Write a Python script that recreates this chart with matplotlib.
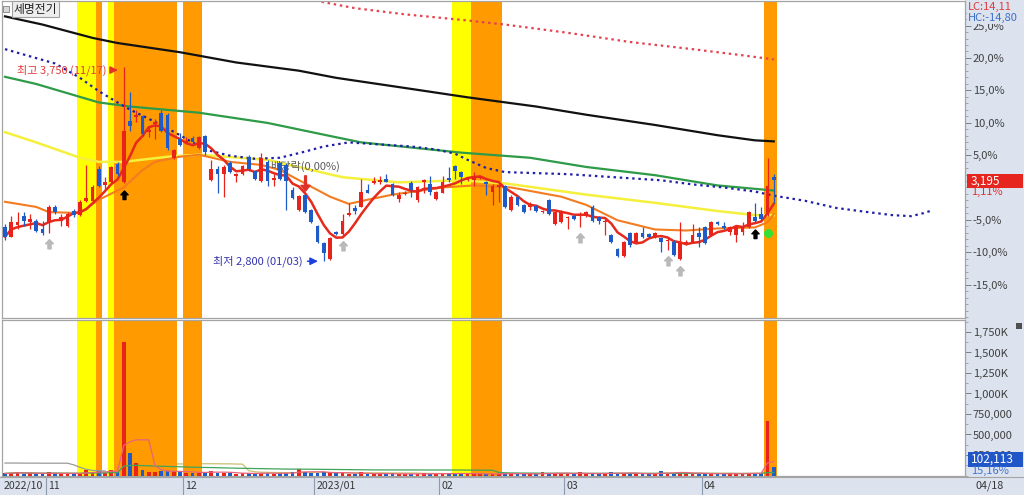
import numpy as np
import pandas as pd
import matplotlib
matplotlib.use('Agg')
import matplotlib.pyplot as plt
from matplotlib.path import Path
from matplotlib.patches import Rectangle
import matplotlib.transforms as mtrans

plt.rcParams['font.family'] = ['Noto Sans CJK KR', 'DejaVu Sans']

# ---------------- data ----------------
stock_name = '세명전기'
month_labels = ['2022/10', '11', '12', '2023/01', '02', '03', '04']
month_days = [7, 22, 21, 20, 20, 22, 12]
last_date_label = '04/18'

opens = [2965, 2920, 2975, 3020, 2990, 2995, 2955, 2990, 3065, 2995, 2970, 3045, 3025, 3095, 3095, 3250,
         3170, 3185, 3275, 3185, 3485, 3505, 3510, 3430, 3470, 3525, 3515, 3305, 3395, 3375, 3400, 3355,
         3410, 3195, 3250, 3225, 3280, 3215, 3225, 3310, 3240, 3190, 3285, 3195, 3280, 3270, 3150, 3050,
         3125, 3050, 2970, 2890, 2810, 2945, 2935, 3025, 3060, 3065, 3150, 3180, 3185, 3200, 3175, 3105,
         3130, 3180, 3100, 3185, 3175, 3105, 3135, 3205, 3265, 3235, 3195, 3195, 3205, 3185, 3140, 3160,
         3165, 3050, 3115, 3075, 3065, 3070, 3040, 3100, 2980, 2990, 3010, 3020, 3025, 3020, 3065, 3015,
         2990, 2930, 2860, 2825, 2940, 2895, 2940, 2935, 2920, 2915, 2900, 2895, 2810, 2890, 2895, 2940,
         2965, 2930, 2990, 2970, 2945, 2930, 2945, 2965, 3015, 3030, 3030, 3210]
highs = [2980, 3020, 3040, 3040, 3030, 3005, 2995, 3075, 3075, 3030, 3040, 3055, 3100, 3270, 3170, 3265,
         3210, 3265, 3285, 3750, 3625, 3540, 3515, 3455, 3495, 3540, 3525, 3350, 3425, 3405, 3410, 3410,
         3415, 3295, 3265, 3270, 3290, 3230, 3270, 3320, 3245, 3330, 3295, 3225, 3285, 3280, 3160, 3125,
         3130, 3055, 2975, 2895, 2920, 2950, 3030, 3085, 3075, 3200, 3175, 3210, 3215, 3225, 3180, 3140,
         3145, 3190, 3165, 3200, 3215, 3145, 3215, 3260, 3270, 3240, 3210, 3235, 3215, 3190, 3175, 3175,
         3170, 3125, 3120, 3080, 3090, 3075, 3050, 3105, 3045, 3050, 3020, 3025, 3040, 3045, 3075, 3020,
         3005, 2935, 2865, 2900, 2945, 2945, 2965, 2940, 2945, 2920, 2920, 2905, 2990, 2905, 2980, 2965,
         2970, 2995, 2995, 2990, 2970, 2970, 2990, 3045, 3085, 3065, 3305, 3225]
lows = [2905, 2920, 2955, 2970, 2955, 2945, 2930, 2940, 3030, 2970, 2965, 3015, 3020, 3090, 3085, 3160,
        3150, 3180, 3215, 3180, 3435, 3480, 3410, 3405, 3395, 3430, 3345, 3300, 3360, 3370, 3375, 3350,
        3320, 3190, 3135, 3115, 3230, 3185, 3220, 3240, 3195, 3185, 3165, 3165, 3195, 3050, 3105, 3045,
        3035, 2985, 2890, 2800, 2805, 2930, 2930, 3020, 3030, 3065, 3135, 3175, 3175, 3185, 3120, 3090,
        3125, 3115, 3090, 3135, 3125, 3100, 3135, 3185, 3200, 3175, 3190, 3165, 3200, 3125, 3075, 3090,
        3060, 3045, 3070, 3035, 3050, 3040, 3035, 3025, 2975, 2985, 2955, 3000, 2965, 3015, 2990, 2980,
        2930, 2890, 2820, 2820, 2870, 2890, 2915, 2915, 2915, 2845, 2855, 2825, 2805, 2880, 2890, 2870,
        2885, 2925, 2975, 2955, 2930, 2895, 2930, 2960, 2990, 2995, 3020, 3085]
closes = [2920, 2990, 2990, 2995, 3005, 2950, 2940, 3065, 3040, 3015, 3030, 3025, 3090, 3110, 3160, 3165,
          3185, 3260, 3225, 3435, 3460, 3515, 3420, 3440, 3480, 3435, 3355, 3345, 3365, 3385, 3380, 3405,
          3335, 3250, 3225, 3260, 3235, 3225, 3265, 3250, 3200, 3305, 3190, 3205, 3200, 3190, 3110, 3120,
          3040, 2990, 2895, 2840, 2915, 2935, 2995, 3035, 3045, 3140, 3135, 3190, 3195, 3185, 3125, 3125,
          3135, 3150, 3160, 3195, 3140, 3140, 3185, 3195, 3240, 3210, 3200, 3210, 3210, 3175, 3165, 3170,
          3065, 3115, 3075, 3040, 3080, 3045, 3045, 3030, 3040, 3045, 3015, 3005, 3030, 3040, 2995, 2995,
          2995, 2895, 2825, 2895, 2880, 2940, 2920, 2920, 2940, 2895, 2905, 2830, 2890, 2895, 2930, 2920,
          2890, 2990, 2980, 2960, 2965, 2965, 2965, 3040, 2995, 3005, 3165, 3195]
volumes = [25000, 32000, 45000, 22000, 26000, 18000, 21000,
           42000, 26000, 20000, 23000, 18000, 35000, 62000, 41000, 52000, 30000, 72000, 46000,
           1630000, 280000, 148000, 70000, 48000, 45000, 50000, 60000, 55000, 40000, 35000, 30000, 36000, 45000,
           58000, 35000, 30000, 28000, 22000, 25000, 30000, 22000, 35000, 30000, 20000, 25000, 32000, 40000, 85000, 38000, 30000,
           35000, 40000, 45000, 25000, 30000, 22000, 20000, 38000, 20000, 18000, 22000, 20000, 25000, 18000, 15000, 20000, 22000, 25000, 20000, 18000,
           22000, 25000, 30000, 26000, 18000, 20000, 18000, 20000, 24000, 18000, 30000, 25000, 20000, 18000, 16000, 20000, 42000, 22000, 30000, 25000,
           22000, 18000, 40000, 20000, 25000, 18000, 22000, 45000, 30000, 28000, 25000, 20000, 18000, 20000, 22000, 55000, 26000, 35000, 45000, 20000, 25000, 18000,
           25000, 30000, 18000, 20000, 22000, 25000, 20000, 35000, 25000, 30000, 660000, 102113]

# moving-average / indicator lines (day index -> price)
black_days = [0, 6, 14, 18, 28, 37, 47, 53, 63, 74, 85, 93, 104, 114, 120, 123]
black_vals = [3995, 3955, 3890, 3865, 3820, 3770, 3730, 3695, 3650, 3600, 3555, 3515, 3465, 3415, 3390, 3385]
reddot_days = [46, 50, 56, 64, 74, 80, 90, 100, 110, 118, 123]
reddot_vals = [4100, 4070, 4035, 4005, 3975, 3955, 3915, 3870, 3835, 3805, 3785]
bluedot_days = [0, 8, 12, 15, 18, 20, 23, 25, 28, 32, 36, 40, 44, 48, 51, 55, 60, 65, 69, 72, 74, 77, 80,
                85, 90, 95, 100, 105, 110, 115, 120, 123, 128, 133, 138, 142, 145, 147, 148]
bluedot_vals = [3835, 3765, 3695, 3630, 3575, 3540, 3495, 3465, 3415, 3345, 3315, 3300, 3305, 3335, 3360,
                3380, 3370, 3360, 3345, 3325, 3295, 3255, 3235, 3230, 3225, 3215, 3205, 3195, 3175, 3160,
                3140, 3120, 3095, 3060, 3040, 3025, 3020, 3035, 3045]
green_days = [0, 5, 15, 20, 31, 42, 53, 57, 73, 84, 93, 104, 114, 123]
green_vals = [3700, 3665, 3575, 3555, 3525, 3475, 3405, 3380, 3330, 3305, 3260, 3220, 3170, 3145]
yellow_days_l = [0, 5, 12, 15, 19, 26, 31, 42, 54, 63, 73, 80, 93, 104, 114, 120, 123]
yellow_vals = [3430, 3380, 3305, 3285, 3285, 3310, 3320, 3295, 3210, 3185, 3195, 3180, 3125, 3085, 3045,
               3025, 3025]
orange_days_l = [0, 5, 7, 12, 15, 19, 22, 24, 28, 31, 36, 41, 44, 48, 52, 55, 58, 62, 70, 75, 81, 89, 93,
                 98, 104, 109, 114, 120, 122, 123]
orange_vals = [3090, 3065, 3040, 3035, 3100, 3160, 3245, 3285, 3310, 3320, 3285, 3270, 3245, 3180, 3115,
               3080, 3100, 3125, 3160, 3170, 3160, 3115, 3075, 3000, 2955, 2950, 2960, 2965, 2990, 3030]
vol_gray_days = list(range(17))
vol_gray_vals = [152000, 152000, 152000, 151000, 151000, 151000, 150000, 150000, 150000, 150000, 150000,
                 130000, 100000, 75000, 62000, 58000, 56000]

# signal highlight days
yellow_band_days = [12, 13, 14, 17, 72, 73, 74]
orange_band_days = [15, 18, 19, 20, 21, 22, 23, 24, 25, 26, 27, 29, 30, 31, 75, 76, 77, 78, 79, 122, 123]
black_signal_days = [19, 120]
gray_signal_days = [7, 54, 92, 106, 108]
green_signal_days = [122]
ex_div_day = 48

base_price = 3160
pct_levels = [-15, -10, -5, 5, 10, 15, 20, 25]
vol_ticks = [250000, 500000, 750000, 1000000, 1250000, 1500000, 1750000]
last_volume_pct = '15,16%'
last_price_pct = '1,11%'
lc_text = 'LC:14,11'
hc_text = 'HC:-14,80'

# ---------------- figure ----------------
opens = np.array(opens, float); highs = np.array(highs, float)
lows = np.array(lows, float); closes = np.array(closes, float)
volumes = np.array(volumes, float)
N = len(closes)
x = np.arange(N)

W, H = 1024, 495
fig = plt.figure(figsize=(W / 100, H / 100), dpi=100)
fig.patch.set_facecolor('white')


def fx(p):
    return p / W


def fy(p):
    return 1 - p / H


STRIP = '#DCE3EE'
GRID = '#A4A4A4'
fig.patches.append(Rectangle((fx(965), 0), 1, 1, transform=fig.transFigure,
                             facecolor=STRIP, edgecolor='none', zorder=-5))
fig.patches.append(Rectangle((0, 0), 1, 19 / H, transform=fig.transFigure,
                             facecolor=STRIP, edgecolor='none', zorder=-5))

ax = fig.add_axes([fx(2), fy(318), fx(963), 317 / H])
axv = fig.add_axes([fx(2), fy(476), fx(963), 156 / H])

RED = '#E8231B'
BLUE = '#1E5BC8'


def groups(days):
    days = sorted(days)
    out = []
    s = p = days[0]
    for d in days[1:]:
        if d == p + 1:
            p = d
        else:
            out.append((s, p)); s = p = d
    out.append((s, p))
    return out


for a in (ax, axv):
    for s, e in groups(yellow_band_days):
        a.axvspan(s - 0.5, e + 0.5, color='#FFFF00', lw=0, zorder=1)
    for s, e in groups(orange_band_days):
        a.axvspan(s - 0.5, e + 0.5, color='#FF9A00', lw=0, zorder=1)
    a.set_xlim(-0.48, 153.6)
    for sp in a.spines.values():
        sp.set_color(GRID); sp.set_linewidth(0.9)
    a.tick_params(axis='x', bottom=False, labelbottom=False)
    a.yaxis.tick_right()

# indicator lines
ax.plot(black_days, black_vals, color='#111111', lw=1.6, zorder=2)
ax.plot(green_days, green_vals, color='#2E9B48', lw=1.6, zorder=2)
ax.plot(yellow_days_l, yellow_vals, color='#F4F03C', lw=1.8, zorder=2)
ax.plot(orange_days_l, orange_vals, color='#F47C20', lw=1.5, zorder=2)
ax.plot(bluedot_days, bluedot_vals, color='#1F1FA8', lw=1.6, linestyle=(0, (1.1, 1.7)),
        dash_capstyle='butt', zorder=2)
ax.plot(reddot_days, reddot_vals, color='#E6404E', lw=1.6, linestyle=(0, (1.1, 1.7)),
        dash_capstyle='butt', zorder=2)
ma5 = pd.Series(closes).rolling(5, min_periods=1).mean().values
ax.plot(x, ma5, color='#E62A1C', lw=1.8, zorder=4)

# candles
up = closes >= opens
col = np.where(up, RED, BLUE)
ax.vlines(x, lows, highs, colors=col, lw=0.9, zorder=5)
ax.bar(x, np.maximum(np.abs(closes - opens), 5), bottom=np.minimum(opens, closes),
       width=0.62, color=col, lw=0, zorder=6)

ax.set_ylim(2523, 4070)
ax.set_yticks([base_price * (1 + k / 100) for k in pct_levels])
ax.set_yticklabels([f'{k},0%' for k in pct_levels])
ax.set_yticks([base_price * (1 + k / 100) for k in range(-20, 28)], minor=True)
ax.tick_params(axis='y', which='major', length=4, width=0.6, color='#707070',
               labelsize=8, labelcolor='#404040', pad=1.5)
ax.tick_params(axis='y', which='minor', length=2, width=0.5, color='#8A8A8A')


def off(a, dx, dy):
    return a.transData + mtrans.ScaledTranslation(dx / 100, dy / 100, fig.dpi_scale_trans)


# signal markers
arrow_up = Path([(0, 1), (0.8, 0.15), (0.32, 0.15), (0.32, -0.9), (-0.32, -0.9), (-0.32, 0.15),
                 (-0.8, 0.15), (0, 1)],
                [Path.MOVETO] + [Path.LINETO] * 6 + [Path.CLOSEPOLY])
arrow_down = Path([(0, -1), (0.6, -0.25), (0.12, -0.25), (0.12, 1), (-0.12, 1), (-0.12, -0.25),
                   (-0.6, -0.25), (0, -1)],
                  [Path.MOVETO] + [Path.LINETO] * 6 + [Path.CLOSEPOLY])
for d in black_signal_days:
    ax.plot([d], [lows[d]], marker=arrow_up, ms=6.5, color='black', ls='none',
            transform=off(ax, 0, -12), zorder=8)
for d in gray_signal_days:
    ax.plot([d], [lows[d]], marker=arrow_up, ms=7, color='#B9B9B9', ls='none',
            transform=off(ax, 0, -11), zorder=8)
for d in green_signal_days:
    ax.plot([d], [lows[d]], marker='o', ms=5.5, color='#35E035', ls='none',
            transform=off(ax, 0, -17), zorder=8)
ax.plot([ex_div_day], [highs[ex_div_day]], marker=arrow_down, ms=11, color='#E0302A', ls='none',
        transform=off(ax, 0, 11), zorder=8)
ax.text(ex_div_day, highs[ex_div_day], '배당락(0,00%)', transform=off(ax, 0, 27.5), ha='center',
        va='center', fontsize=8, color='#5A5A5A', zorder=3)

# high / low annotations
hd = int(np.argmax(highs)); hv = highs[hd]
ld = int(np.argmin(lows)); lv = lows[ld]
ax.annotate('', xy=(hd, hv), xycoords=off(ax, -3, -3.5), xytext=(hd, hv), textcoords=off(ax, -16, -3.5),
            arrowprops=dict(arrowstyle='-|>,head_length=0.45,head_width=0.22', color='#E8302A', lw=1.1),
            zorder=9)
ax.text(hd, hv, f'최고 {hv:,.0f} (11/17)', transform=off(ax, -17, -3.5), ha='right', va='center',
        fontsize=8, color='#E03A3A', zorder=9)
ax.annotate('', xy=(ld, lv), xycoords=off(ax, -3, 0), xytext=(ld, lv), textcoords=off(ax, -19, 0),
            arrowprops=dict(arrowstyle='-|>,head_length=0.45,head_width=0.22', color='#1E3FE0', lw=1.1),
            zorder=9)
ax.text(ld, lv, f'최저 {lv:,.0f} (01/03)', transform=off(ax, -21, 0), ha='right', va='center',
        fontsize=8, color='#3535B0', zorder=9)

# volume panel
axv.bar(x, volumes, width=0.62, color=col, lw=0, zorder=3)
vs = pd.Series(volumes)
axv.plot(x, vs.rolling(20, min_periods=1).mean(), color='#C9C070', lw=0.9, zorder=0.5)
axv.plot(x, vs.rolling(60, min_periods=1).mean(), color='#3FA55A', lw=0.9, zorder=4)
axv.plot(x, vs.rolling(5, min_periods=1).mean(), color='#E8647C', lw=0.9, zorder=4)
axv.plot(vol_gray_days, vol_gray_vals, color='#9A9A9A', lw=0.9, zorder=4)
axv.set_ylim(-6000, 1896000)
axv.set_yticks(vol_ticks)
axv.set_yticklabels([f'{v / 1000:,.0f}K' if v >= 1000000 else f'{v:,.0f}' for v in vol_ticks])
axv.set_yticks(np.arange(0, 1900000, 125000), minor=True)
axv.tick_params(axis='y', which='major', length=4, width=0.6, color='#707070',
                labelsize=8, labelcolor='#404040', pad=1.5)
axv.tick_params(axis='y', which='minor', length=2, width=0.5, color='#8A8A8A')

# date strip
trans = mtrans.blended_transform_factory(axv.transData, fig.transFigure)
starts = np.concatenate([[0], np.cumsum(month_days)[:-1]]) - 0.5
for i, (b, lab) in enumerate(zip(starts, month_labels)):
    if i > 0:
        axv.plot([b, b], [fy(477), fy(495)], transform=trans, clip_on=False, color='#8E9AAE', lw=0.8)
    axv.text(b, fy(486), lab, transform=trans + mtrans.ScaledTranslation(0.02, 0, fig.dpi_scale_trans),
             ha='left', va='center', fontsize=7.6, color='#383838')
fig.text(fx(975), fy(486), last_date_label, ha='left', va='center', fontsize=7.8, color='#383838')
fig.add_artist(plt.Line2D([0, 1], [fy(476.5), fy(476.5)], transform=fig.transFigure, color=GRID, lw=0.8))

# header / side labels
fig.patches.append(Rectangle((fx(3), fy(12)), fx(6), 6 / H, transform=fig.transFigure,
                             facecolor='#D8D8D8', edgecolor='#808080', lw=0.6, zorder=5))
fig.text(fx(14), fy(9), stock_name, fontsize=8.5, va='center', ha='left', color='#202020', zorder=6,
         bbox=dict(boxstyle='square,pad=0.15', fc='#EDEDED', ec='#A0A0A0', lw=0.8))
fig.text(fx(968), fy(7), lc_text, color='#E03C3C', fontsize=8, va='center', ha='left', zorder=6)
fig.text(fx(968), fy(18), hc_text, color='#3C6FC8', fontsize=8, va='center', ha='left', zorder=6,
         bbox=dict(boxstyle='square,pad=0.12', fc=STRIP, ec='none'))
fig.patches.append(Rectangle((fx(967), fy(188)), fx(56), 14 / H, transform=fig.transFigure,
                             facecolor='#E5251E', edgecolor='none', zorder=5))
fig.text(fx(971), fy(181), f'{closes[-1]:,.0f}', color='white', fontsize=8.5, va='center', ha='left', zorder=6)
fig.text(fx(971), fy(192), last_price_pct, color='#E03030', fontsize=8, va='center', ha='left', zorder=6)
fig.patches.append(Rectangle((fx(968), fy(467)), fx(55), 15 / H, transform=fig.transFigure,
                             facecolor='#2156C8', edgecolor='none', zorder=5))
fig.text(fx(971), fy(459.5), f'{volumes[-1]:,.0f}', color='white', fontsize=8.5, va='center', ha='left',
         zorder=6)
fig.text(fx(971), fy(471), last_volume_pct, color='#3E74D0', fontsize=8, va='center', ha='left', zorder=6)
fig.patches.append(Rectangle((fx(1016), fy(329)), fx(6), 6 / H, transform=fig.transFigure,
                             facecolor='#505050', edgecolor='none', zorder=5))

fig.savefig('out.png', dpi=100)
